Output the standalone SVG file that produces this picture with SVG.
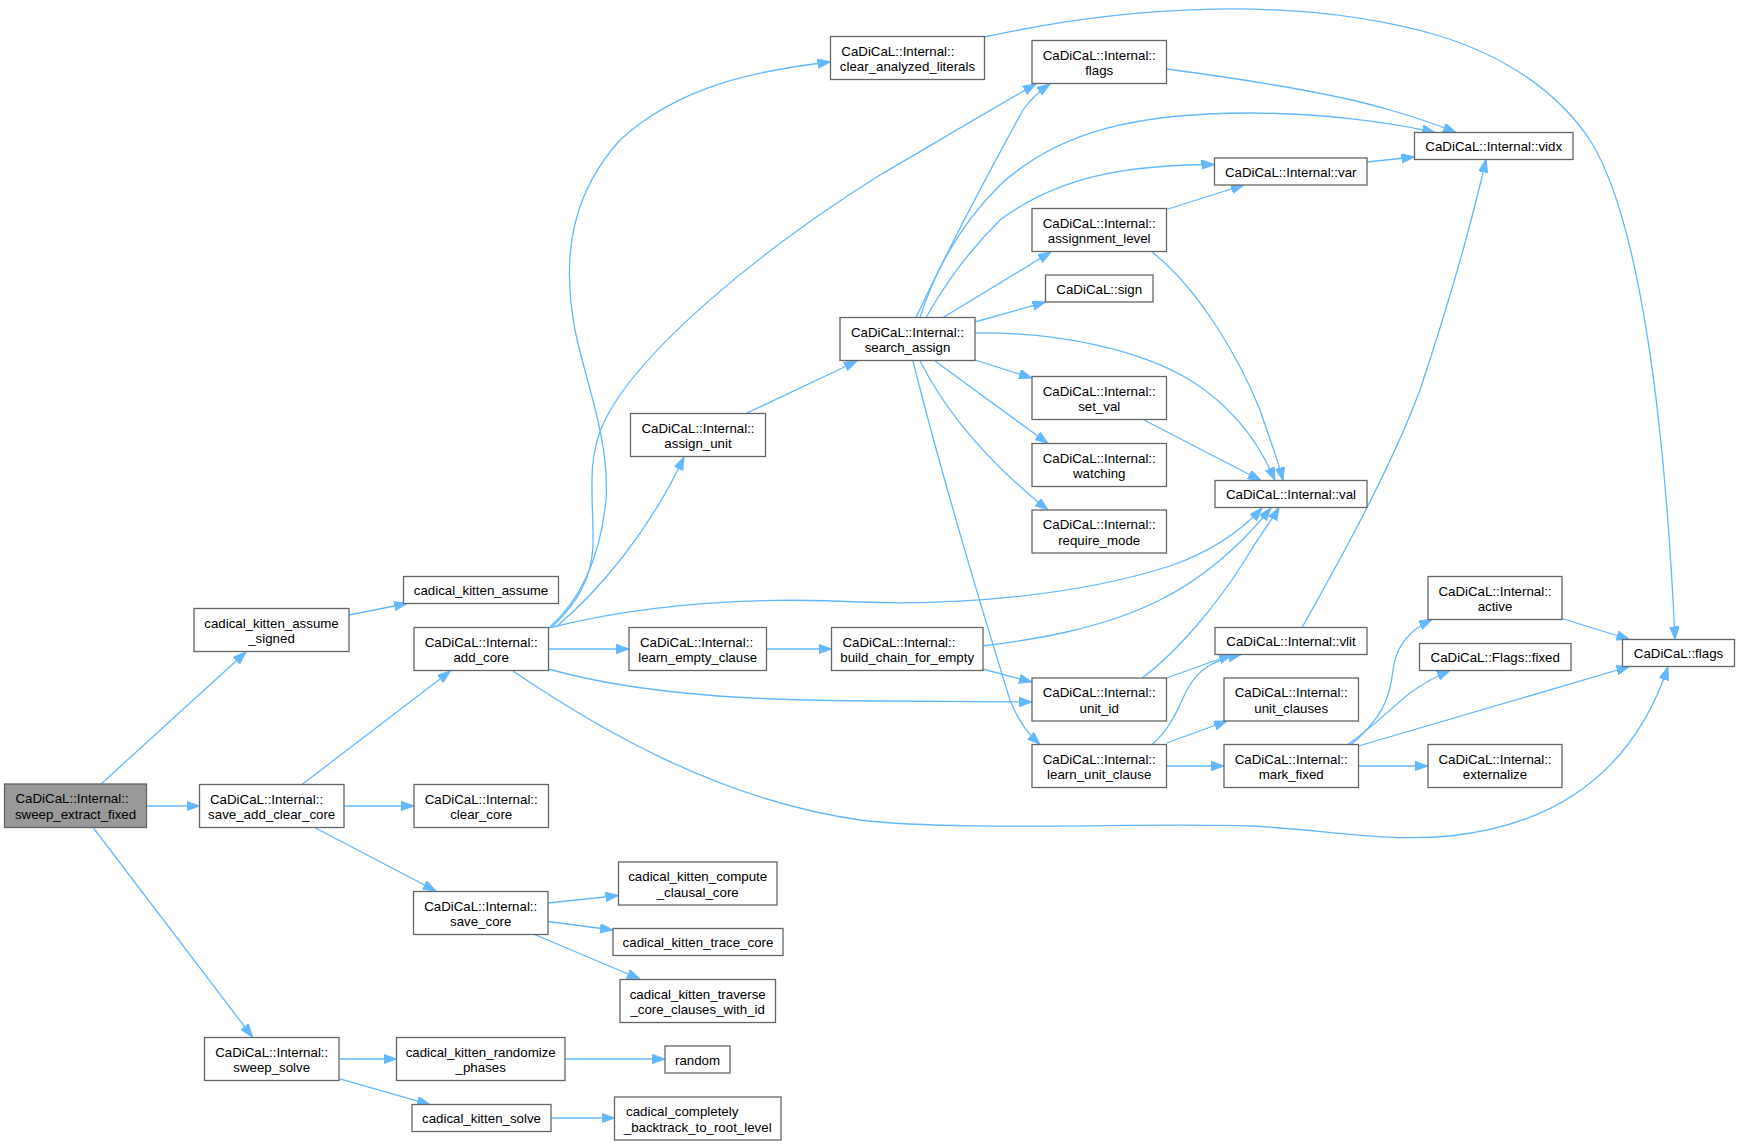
<svg xmlns="http://www.w3.org/2000/svg" width="1738" height="1145" viewBox="0 0 1738 1145">
<style>
.n rect{fill:#fff;stroke:#666;stroke-width:1.3}
.root rect{fill:#999}
text{font-family:"Liberation Sans",Arial,Helvetica,sans-serif;font-size:13.3px;fill:#000}
.c{text-anchor:middle}
.e path{fill:none;stroke:#63b8ff;stroke-width:1.3;marker-end:url(#a)}
</style>
<defs>
<marker id="a" markerWidth="14" markerHeight="10" refX="13" refY="4.7" orient="auto" markerUnits="userSpaceOnUse"><path d="M0,0 L13,4.7 L0,9.4 z" fill="#63b8ff" stroke="#63b8ff" stroke-width="1"/></marker>
</defs>
<rect width="1738" height="1145" fill="#fff"/>
<g id="edges" class="e">
<path d="M101,784 L246,652"/>
<path d="M146.5,806 L199.5,806"/>
<path d="M93.5,828 L252.5,1037"/>
<path d="M349,615 L407,603.5"/>
<path d="M302,784.5 L450.5,671"/>
<path d="M344,806 L414,806"/>
<path d="M315.5,828 L436,891"/>
<path d="M548,903 L618.5,895.5"/>
<path d="M548,921.5 L613,930"/>
<path d="M534.5,934.5 L640,979"/>
<path d="M339,1059 L396.5,1059"/>
<path d="M339,1078.5 L430,1104.5"/>
<path d="M565,1059 L665,1059"/>
<path d="M551,1118 L614.5,1118"/>
<path d="M550,627 C580,600 600,560 606,500 C610,440 585,380 575,330 C560,250 575,190 620,140 C680,85 760,70 830.5,62"/>
<path d="M552,627 C575,605 592,580 593,545 C594,500 585,460 605,420 C640,350 760,250 880,175 C940,140 990,110 1036,84"/>
<path d="M556,627 C600,590 650,530 684,457"/>
<path d="M548.5,649 L629,649"/>
<path d="M548.5,628 C620,610 720,595 860,602 C960,606 1080,595 1170,566 C1210,552 1240,532 1262,508"/>
<path d="M548.5,669 C640,695 760,701 880,701 C940,701 990,702 1032,702"/>
<path d="M513,671 C600,730 720,800 860,820 C960,832 1150,822 1250,826 C1330,830 1380,842 1450,836 C1580,822 1640,750 1668,667"/>
<path d="M984.5,37 C1130,5 1300,-5 1440,36 C1510,58 1560,95 1590,140 C1640,220 1665,420 1675,639.5"/>
<path d="M916,317.5 C950,245 990,170 1023,110 C1030,100 1038,92 1050,84"/>
<path d="M920,317.5 C935,270 960,225 1000,185 C1060,130 1140,113 1250,113 C1320,113 1390,122 1435,132.5"/>
<path d="M926,317.5 C945,285 965,255 1000,220 C1060,175 1130,165 1214.5,164.5"/>
<path d="M943,317.5 L1051,252"/>
<path d="M975,322 L1045.5,302"/>
<path d="M975,333 C1060,332 1140,350 1190,380 C1230,405 1258,440 1275,480.5"/>
<path d="M975,360 L1032,378"/>
<path d="M935,361 L1048,443.5"/>
<path d="M920,361 C945,410 985,460 1048,510"/>
<path d="M913,361 C940,470 985,620 1010,700 C1020,725 1030,735 1040,744.5"/>
<path d="M746,413.5 L857,361"/>
<path d="M766.5,649 L831.5,649"/>
<path d="M983,646 C1030,640 1100,630 1160,600 C1210,575 1245,540 1271,508"/>
<path d="M982.5,669 L1032,682"/>
<path d="M1166.5,69 C1250,80 1340,95 1390,110 C1415,117 1435,124 1456,132.5"/>
<path d="M1367,162 L1414.5,157"/>
<path d="M1166.5,209.5 L1244,185"/>
<path d="M1152,252 C1200,290 1240,360 1260,410 C1270,440 1278,460 1283,480.5"/>
<path d="M1144,420 L1261,480.5"/>
<path d="M1302,627.5 C1340,560 1390,470 1420,390 C1450,300 1470,230 1486,159.5"/>
<path d="M1142,678 C1180,650 1220,600 1245,560 C1260,535 1272,520 1279,507.5"/>
<path d="M1166.5,678 L1232,654.5"/>
<path d="M1152,744.5 C1175,725 1180,700 1190,685 C1200,668 1215,660 1241,654.5"/>
<path d="M1166.5,743 L1227,721"/>
<path d="M1166.5,766 L1224,766"/>
<path d="M1351,744.5 C1380,720 1390,700 1393,670 C1396,645 1410,630 1432,619.5"/>
<path d="M1348,744.5 C1375,725 1395,705 1410,693 C1425,682 1437,676 1450,670.5"/>
<path d="M1358.5,746 L1629.5,666.5"/>
<path d="M1358.5,766 L1428,766"/>
<path d="M1562,618.5 L1629.5,639.5"/>
</g>
<g id="n0" class="n root"><rect x="4.5" y="784" width="142" height="43.5"/><text x="15.5" y="803">CaDiCaL::Internal::</text><text class="c" x="75.5" y="818.5">sweep_extract_fixed</text></g>
<g id="n1" class="n"><rect x="194" y="608.5" width="155" height="43"/><text class="c" x="271.5" y="627.5">cadical_kitten_assume</text><text class="c" x="271.5" y="643">_signed</text></g>
<g id="n2" class="n"><rect x="403.5" y="576.5" width="155" height="27"/><text class="c" x="481" y="595">cadical_kitten_assume</text></g>
<g id="n3" class="n"><rect x="414" y="627.5" width="134.5" height="43"/><text class="c" x="481.2" y="646.5">CaDiCaL::Internal::</text><text class="c" x="481.2" y="662">add_core</text></g>
<g id="n4" class="n"><rect x="199.5" y="784.5" width="144.5" height="43"/><text x="210" y="803.5">CaDiCaL::Internal::</text><text class="c" x="271.7" y="819">save_add_clear_core</text></g>
<g id="n5" class="n"><rect x="414" y="784.5" width="134.5" height="43"/><text class="c" x="481.2" y="803.5">CaDiCaL::Internal::</text><text class="c" x="481.2" y="819">clear_core</text></g>
<g id="n6" class="n"><rect x="413.5" y="891.5" width="134.5" height="43"/><text class="c" x="480.7" y="910.5">CaDiCaL::Internal::</text><text class="c" x="480.7" y="926">save_core</text></g>
<g id="n7" class="n"><rect x="618.5" y="862" width="158.5" height="43"/><text class="c" x="697.7" y="881">cadical_kitten_compute</text><text class="c" x="697.7" y="896.5">_clausal_core</text></g>
<g id="n8" class="n"><rect x="613" y="928.5" width="170" height="27"/><text class="c" x="698" y="947">cadical_kitten_trace_core</text></g>
<g id="n9" class="n"><rect x="620" y="979.5" width="155.5" height="43"/><text class="c" x="697.7" y="998.5">cadical_kitten_traverse</text><text class="c" x="697.7" y="1014">_core_clauses_with_id</text></g>
<g id="n10" class="n"><rect x="204.5" y="1037.5" width="134.5" height="43"/><text class="c" x="271.7" y="1056.5">CaDiCaL::Internal::</text><text class="c" x="271.7" y="1072">sweep_solve</text></g>
<g id="n11" class="n"><rect x="396.5" y="1037.5" width="168.5" height="43"/><text class="c" x="480.7" y="1056.5">cadical_kitten_randomize</text><text class="c" x="480.7" y="1072">_phases</text></g>
<g id="n12" class="n"><rect x="665" y="1046" width="65" height="27"/><text class="c" x="697.5" y="1064.5">random</text></g>
<g id="n13" class="n"><rect x="412" y="1104.5" width="139" height="27"/><text class="c" x="481.5" y="1123">cadical_kitten_solve</text></g>
<g id="n14" class="n"><rect x="614.5" y="1097" width="166.5" height="43"/><text x="626" y="1116">cadical_completely</text><text class="c" x="697.7" y="1131.5">_backtrack_to_root_level</text></g>
<g id="n15" class="n"><rect x="830.5" y="36.5" width="154" height="43"/><text x="841.3" y="55.5">CaDiCaL::Internal::</text><text class="c" x="907.5" y="71">clear_analyzed_literals</text></g>
<g id="n16" class="n"><rect x="840" y="317.5" width="135" height="43"/><text class="c" x="907.5" y="336.5">CaDiCaL::Internal::</text><text class="c" x="907.5" y="352">search_assign</text></g>
<g id="n17" class="n"><rect x="630.5" y="413.5" width="135" height="43"/><text class="c" x="698" y="432.5">CaDiCaL::Internal::</text><text class="c" x="698" y="448">assign_unit</text></g>
<g id="n18" class="n"><rect x="629" y="627.5" width="137.5" height="43"/><text x="640" y="646.5">CaDiCaL::Internal::</text><text class="c" x="697.7" y="662">learn_empty_clause</text></g>
<g id="n19" class="n"><rect x="831.5" y="627.5" width="151.5" height="43"/><text x="842.4" y="646.5">CaDiCaL::Internal::</text><text class="c" x="907.2" y="662">build_chain_for_empty</text></g>
<g id="n20" class="n"><rect x="1032" y="40.5" width="134.5" height="43"/><text class="c" x="1099.2" y="59.5">CaDiCaL::Internal::</text><text class="c" x="1099.2" y="75">flags</text></g>
<g id="n21" class="n"><rect x="1414.5" y="132.5" width="158.5" height="27"/><text class="c" x="1493.7" y="151">CaDiCaL::Internal::vidx</text></g>
<g id="n22" class="n"><rect x="1214.5" y="158" width="152.5" height="27"/><text class="c" x="1290.7" y="176.5">CaDiCaL::Internal::var</text></g>
<g id="n23" class="n"><rect x="1032" y="208.5" width="134.5" height="43"/><text class="c" x="1099.2" y="227.5">CaDiCaL::Internal::</text><text class="c" x="1099.2" y="243">assignment_level</text></g>
<g id="n24" class="n"><rect x="1045.5" y="275" width="107.5" height="27"/><text class="c" x="1099.2" y="293.5">CaDiCaL::sign</text></g>
<g id="n25" class="n"><rect x="1032" y="376.5" width="134.5" height="43"/><text class="c" x="1099.2" y="395.5">CaDiCaL::Internal::</text><text class="c" x="1099.2" y="411">set_val</text></g>
<g id="n26" class="n"><rect x="1032" y="443.5" width="134.5" height="43"/><text class="c" x="1099.2" y="462.5">CaDiCaL::Internal::</text><text class="c" x="1099.2" y="478">watching</text></g>
<g id="n27" class="n"><rect x="1032" y="510" width="134.5" height="43"/><text class="c" x="1099.2" y="529">CaDiCaL::Internal::</text><text class="c" x="1099.2" y="544.5">require_mode</text></g>
<g id="n28" class="n"><rect x="1215" y="480.5" width="152" height="27"/><text class="c" x="1291" y="499">CaDiCaL::Internal::val</text></g>
<g id="n29" class="n"><rect x="1215" y="627.5" width="152" height="27"/><text class="c" x="1291" y="646">CaDiCaL::Internal::vlit</text></g>
<g id="n30" class="n"><rect x="1032" y="678" width="134.5" height="43"/><text class="c" x="1099.2" y="697">CaDiCaL::Internal::</text><text class="c" x="1099.2" y="712.5">unit_id</text></g>
<g id="n31" class="n"><rect x="1032" y="744.5" width="134.5" height="43"/><text class="c" x="1099.2" y="763.5">CaDiCaL::Internal::</text><text class="c" x="1099.2" y="779">learn_unit_clause</text></g>
<g id="n32" class="n"><rect x="1224" y="678" width="134.5" height="43"/><text class="c" x="1291.2" y="697">CaDiCaL::Internal::</text><text class="c" x="1291.2" y="712.5">unit_clauses</text></g>
<g id="n33" class="n"><rect x="1224" y="744.5" width="134.5" height="43"/><text class="c" x="1291.2" y="763.5">CaDiCaL::Internal::</text><text class="c" x="1291.2" y="779">mark_fixed</text></g>
<g id="n34" class="n"><rect x="1428" y="576.5" width="134" height="43"/><text class="c" x="1495" y="595.5">CaDiCaL::Internal::</text><text class="c" x="1495" y="611">active</text></g>
<g id="n35" class="n"><rect x="1419.5" y="643.5" width="151.5" height="27"/><text class="c" x="1495.2" y="662">CaDiCaL::Flags::fixed</text></g>
<g id="n36" class="n"><rect x="1428" y="744.5" width="134" height="43"/><text class="c" x="1495" y="763.5">CaDiCaL::Internal::</text><text class="c" x="1495" y="779">externalize</text></g>
<g id="n37" class="n"><rect x="1622.5" y="639.5" width="112" height="27"/><text class="c" x="1678.5" y="658">CaDiCaL::flags</text></g>
</svg>
